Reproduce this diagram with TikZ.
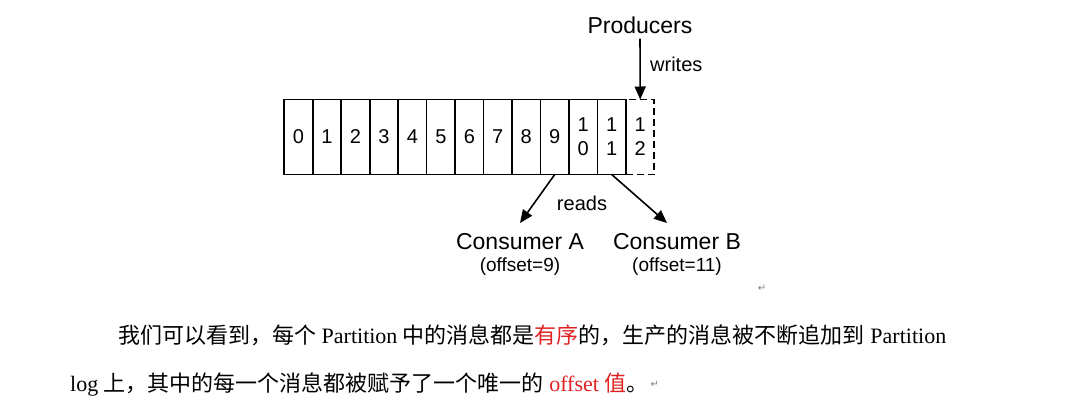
\documentclass[tikz,border=0pt]{standalone}
\usepackage{fontspec}
\setmainfont{Liberation Serif}
\newfontfamily\diag{Liberation Sans}
\newfontfamily\cjk{Noto Sans CJK SC}
\newfontfamily\sym{DejaVu Sans}
\usetikzlibrary{arrows.meta}
\definecolor{hl}{RGB}{225,35,35}
\begin{document}
\begin{tikzpicture}[x=1pt,y=-1pt,
  cell/.style={draw, line width=1.7pt, minimum width=28.47pt, minimum height=75pt,
    inner sep=0pt, outer sep=0pt, font=\diag\fontsize{20}{24}\selectfont, align=center},
  lbl/.style={font=\diag\fontsize{23}{26}\selectfont, inner sep=0pt},
  small/.style={font=\diag\fontsize{19}{22}\selectfont, inner sep=0pt},
  verb/.style={font=\diag\fontsize{20}{22}\selectfont, inner sep=0pt},
  arr/.style={line width=1.6pt, -{Triangle[length=13pt,width=11pt]}},
  para/.style={font=\fontsize{22}{26}\selectfont, inner sep=0pt, anchor=base west},
  retmark/.style={font=\sym\fontsize{10}{10}\selectfont, text=gray, inner sep=0pt}]
\fill[white] (0,0) rectangle (1084,405);
\useasboundingbox (0,0) rectangle (1084,405);
% partition log cells
\foreach \i in {0,...,9}
  \node[cell] (c\i) at ({298.5+28.47*\i},137) {\i};
\node[cell] (c10) at ({298.5+28.47*10},137) {1\\0};
\node[cell] (c11) at ({298.5+28.47*11},137) {1\\1};
\node[cell, dash pattern=on 7pt off 4pt, minimum width=28pt] (c12) at (640.2,137) {1\\2};
% producers
\node[lbl] (prod) at (640,25) {Producers};
\node[verb, anchor=west] (wr) at (650,64) {writes};
\draw[arr, shorten <=5pt] (prod.south) -- (c12.north);
% consumers
\node[lbl] (ca) at (520,242) {Consumer A};
\node[small] (oa) at (520,267) {(offset=9)};
\node[lbl] (cb) at (677,242) {Consumer B};
\node[small] (ob) at (677,267) {(offset=11)};
\node[verb] (rd) at (582,203) {reads};
\coordinate (ta) at (520,223);
\coordinate (tb) at (667,223);
\draw[arr] (c9.south) -- (ta);
\draw[arr] (c11.south) -- (tb);
\node[retmark] (rm1) at (762,288) {↵};
% paragraph
\node[para] (l1) at (118,343) {{\cjk 我们可以看到，每个} Partition {\cjk 中的消息都是\textcolor{hl}{有序}的，生产的消息被不断追加到} Partition};
\node[para] (l2) at (70,391) {log {\cjk 上，其中的每一个消息都被赋予了一个唯一的} \textcolor{hl}{offset {\cjk 值}}{\cjk 。}};
\node[retmark, anchor=west] (rm2) at (l2.east) {\,↵};
\end{tikzpicture}
\end{document}
